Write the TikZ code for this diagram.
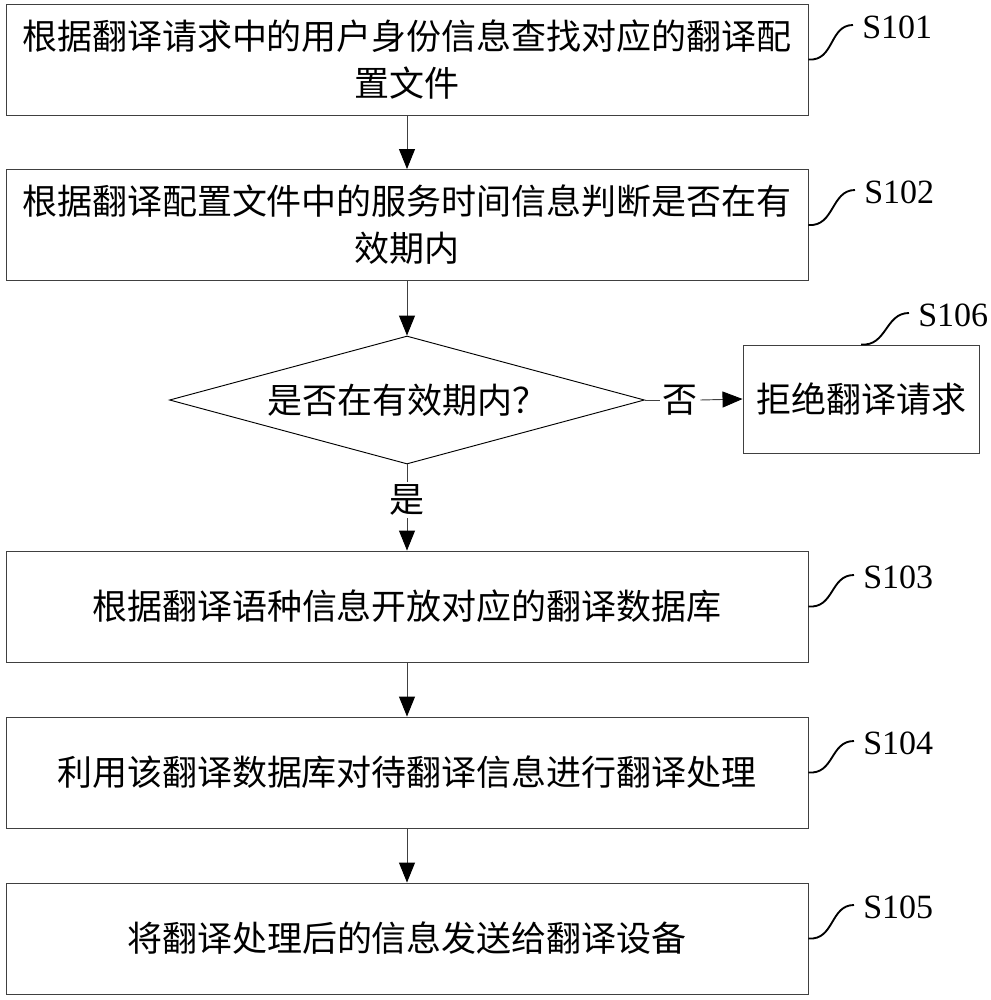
\documentclass[tikz,border=0pt]{standalone}
\usepackage{fontspec}
\setmainfont{Liberation Serif}
\newfontfamily\cjk{Noto Sans CJK SC}
\usetikzlibrary{shapes.geometric,arrows.meta,calc}
\begin{document}
\begin{tikzpicture}[x=0.75pt,y=-0.75pt,
  cjktext/.style={font=\cjk\fontsize{26.25pt}{35.25pt}\selectfont},
  stepbox/.style={cjktext,draw=black!75,line width=0.7pt,minimum width=601.5pt,minimum height=83.25pt,align=center,inner sep=0pt},
  sidebox/.style={cjktext,draw=black!75,line width=0.7pt,minimum width=177pt,minimum height=81pt,align=center,inner sep=0pt},
  decision/.style={cjktext,draw=black,line width=0.7pt,diamond,aspect=3.8,minimum width=356.25pt,minimum height=96pt,inner sep=0pt},
  lbl/.style={font=\fontsize{25.5pt}{30pt}\selectfont,inner sep=0pt,anchor=west},
  yn/.style={cjktext,inner sep=2pt},
  flow/.style={draw=black!75,line width=0.7pt,-{Triangle[length=15pt,width=12pt,color=black]}},
  plain/.style={draw=black!75,line width=0.7pt},
  squig/.style={draw=black,line width=1.4pt}]
\useasboundingbox (0,0) rectangle (991,1000);

\node[stepbox] (b1) at (407,59.5) {根据翻译请求中的用户身份信息查找对应的翻译配\\置文件};
\node[stepbox] (b2) at (407,225) {根据翻译配置文件中的服务时间信息判断是否在有\\效期内};
\node[decision] (d) at (407,400) {是否在有效期内？};
\node[sidebox] (b6) at (861,399) {拒绝翻译请求};
\node[stepbox] (b3) at (407,606.5) {根据翻译语种信息开放对应的翻译数据库};
\node[stepbox] (b4) at (407,772.5) {利用该翻译数据库对待翻译信息进行翻译处理};
\node[stepbox] (b5) at (407,938.5) {将翻译处理后的信息发送给翻译设备};

\node[yn] (no) at (680,400) {否};
\node[yn] (yes) at (407,500) {是};

\node[lbl] (s101) at (862,27) {S101};
\node[lbl] (s102) at (864,192) {S102};
\node[lbl] (s106) at (918,315) {S106};
\node[lbl] (s103) at (863,577) {S103};
\node[lbl] (s104) at (863,743) {S104};
\node[lbl] (s105) at (863,907) {S105};

\draw[flow] (b1.south) -- (b2.north);
\draw[flow] (b2.south) -- (d.north);
\draw[plain] (d.south) -- (yes.north);
\draw[flow] (yes.south) -- (b3.north);
\draw[plain] (d.east) -- (no.west);
\draw[flow] (no.east) -- (b6.west);
\draw[flow] (b3.south) -- (b4.north);
\draw[flow] (b4.south) -- (b5.north);

\draw[squig] (b1.east) .. controls +(26,2) and +(-24,0) .. ($(s101.west)+(-9,-2)$);
\draw[squig] (b2.east) .. controls +(26,2) and +(-24,0) .. ($(s102.west)+(-9,-2)$);
\draw[squig] (b3.east) .. controls +(26,2) and +(-24,0) .. ($(s103.west)+(-9,-2)$);
\draw[squig] (b4.east) .. controls +(26,2) and +(-24,0) .. ($(s104.west)+(-9,-2)$);
\draw[squig] (b5.east) .. controls +(26,2) and +(-24,0) .. ($(s105.west)+(-9,-2)$);
\draw[squig] (b6.north) .. controls +(26,2) and +(-24,0) .. ($(s106.west)+(-9,-2)$);
\end{tikzpicture}
\end{document}
